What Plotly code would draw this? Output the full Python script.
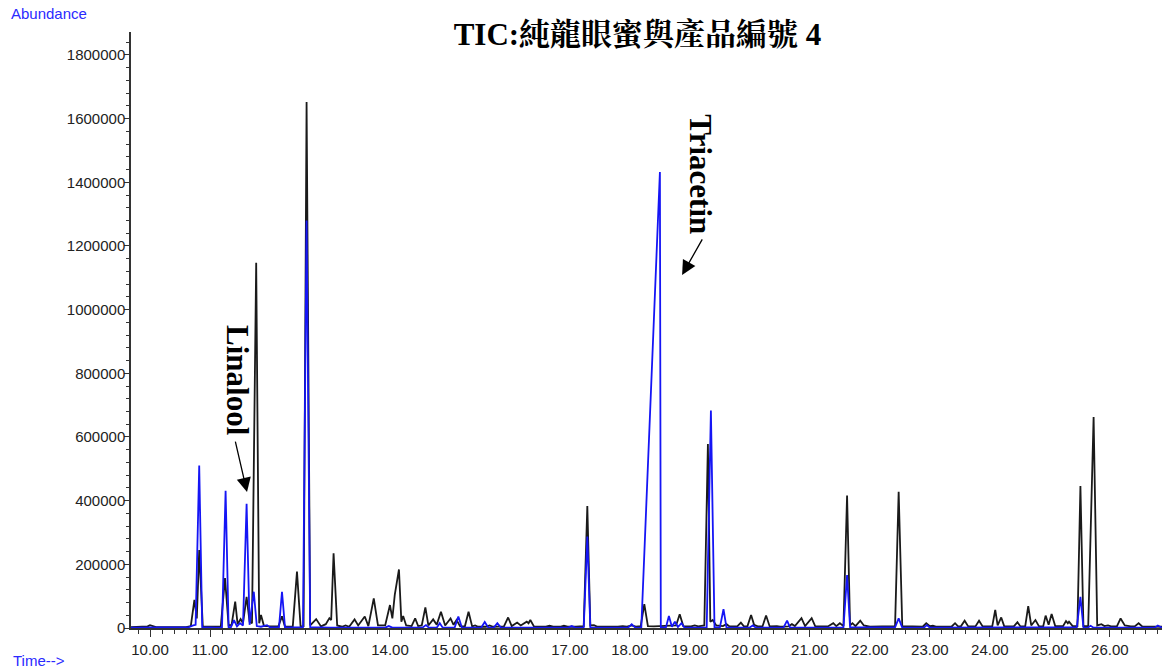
import plotly.graph_objects as go

# ---------------- data ----------------
# Black TIC trace: (retention time [min], abundance)
black_trace = [
    (9.68, 3000), (9.90, 3000), (9.96, 5000), (10.00, 9000), (10.05, 5000), (10.10, 3000),
    (10.60, 3000), (10.68, 6000), (10.74, 88000), (10.78, 30000), (10.82, 245000), (10.88, 5000),
    (11.00, 4000), (11.18, 5000), (11.25, 157000), (11.31, 8000), (11.36, 10000), (11.42, 83000),
    (11.46, 12000), (11.51, 28000), (11.55, 15000), (11.61, 98000), (11.66, 20000), (11.70, 15000),
    (11.77, 1147000), (11.82, 15000), (11.85, 41000), (11.90, 6000),
    (12.14, 5000), (12.20, 37000), (12.25, 4000), (12.38, 5000), (12.45, 177000), (12.51, 5000),
    (12.56, 6000), (12.61, 1652000), (12.67, 8000), (12.77, 28000), (12.85, 5000), (12.93, 12000),
    (12.99, 31000), (13.02, 25000), (13.06, 235000), (13.12, 8000), (13.20, 4000), (13.26, 8000),
    (13.32, 4000), (13.41, 27000), (13.47, 8000), (13.58, 36000), (13.64, 6000), (13.73, 93000),
    (13.80, 8000), (13.92, 8000), (14.00, 72000), (14.04, 30000), (14.08, 104000), (14.15, 184000),
    (14.19, 20000), (14.22, 38000), (14.27, 8000), (14.36, 6000), (14.42, 30000), (14.47, 6000),
    (14.53, 8000), (14.59, 65000), (14.64, 8000), (14.72, 27000), (14.78, 10000), (14.85, 51000),
    (14.92, 8000), (15.01, 30000), (15.06, 10000), (15.11, 25000), (15.17, 5000), (15.25, 6000),
    (15.31, 51000), (15.37, 5000), (15.42, 8000), (15.47, 4000), (15.60, 4000), (15.66, 8000),
    (15.72, 4000), (15.90, 5000), (15.97, 33000), (16.03, 6000), (16.12, 17000), (16.18, 8000),
    (16.28, 20000), (16.31, 15000), (16.34, 25000), (16.40, 5000), (16.60, 4000), (16.66, 7000),
    (16.72, 4000), (16.85, 4000), (16.90, 7000), (16.96, 4000), (17.10, 4000), (17.16, 6000),
    (17.23, 6000), (17.29, 383000), (17.34, 8000), (17.40, 9000), (17.46, 4000), (17.80, 4000),
    (17.88, 6000), (17.95, 4000), (18.03, 8000), (18.10, 4000), (18.18, 6000), (18.24, 75000),
    (18.30, 6000), (18.40, 5000), (18.50, 6000), (18.56, 5000), (18.70, 8000), (18.77, 8000),
    (18.83, 43000), (18.89, 6000), (19.02, 5000), (19.08, 8000), (19.14, 5000), (19.24, 8000),
    (19.30, 578000), (19.34, 20000), (19.38, 25000), (19.44, 8000), (19.55, 6000), (19.61, 12000),
    (19.66, 5000), (19.79, 5000), (19.85, 17000), (19.90, 5000), (19.96, 6000), (20.02, 41000),
    (20.07, 10000), (20.13, 5000), (20.21, 5000), (20.27, 39000), (20.33, 5000), (20.45, 6000),
    (20.50, 4000), (20.64, 5000), (20.70, 12000), (20.75, 6000), (20.86, 31000), (20.92, 6000),
    (21.03, 31000), (21.09, 5000), (21.30, 5000), (21.39, 15000), (21.44, 6000), (21.50, 15000),
    (21.56, 6000), (21.62, 416000), (21.67, 8000), (21.71, 15000), (21.76, 6000), (21.84, 23000),
    (21.90, 8000), (21.94, 6000), (22.00, 4000), (22.42, 6000), (22.48, 428000), (22.54, 6000),
    (22.61, 6000), (22.66, 4000), (22.88, 4000), (22.94, 15000), (23.00, 6000), (23.05, 7000),
    (23.10, 4000), (23.36, 4000), (23.42, 15000), (23.47, 5000), (23.52, 6000), (23.58, 23000),
    (23.64, 5000), (23.76, 5000), (23.82, 23000), (23.88, 5000), (24.04, 5000), (24.09, 57000),
    (24.13, 8000), (24.19, 33000), (24.24, 5000), (24.40, 5000), (24.46, 18000), (24.51, 5000),
    (24.59, 6000), (24.64, 69000), (24.69, 8000), (24.76, 25000), (24.82, 5000), (24.89, 6000),
    (24.93, 39000), (24.98, 10000), (25.03, 44000), (25.09, 6000), (25.22, 6000), (25.27, 22000),
    (25.30, 15000), (25.32, 20000), (25.38, 6000), (25.46, 6000), (25.51, 446000), (25.56, 6000),
    (25.64, 6000), (25.73, 663000), (25.79, 8000), (25.86, 12000), (25.91, 6000), (25.97, 8000),
    (26.02, 5000), (26.12, 6000), (26.18, 30000), (26.25, 8000), (26.35, 5000), (26.42, 6000),
    (26.48, 15000), (26.54, 5000), (26.87, 4000),
]

# Blue TIC trace: (retention time [min], abundance)
blue_trace = [
    (9.68, 1000), (10.55, 1000), (10.65, 3000), (10.72, 8000), (10.76, 10000), (10.82, 510000),
    (10.87, 3000), (11.10, 1000), (11.20, 2000), (11.26, 431000), (11.31, 3000), (11.35, 3000),
    (11.40, 25000), (11.45, 5000), (11.50, 15000), (11.55, 8000), (11.61, 390000), (11.66, 10000),
    (11.73, 114000), (11.78, 6000), (11.85, 4000), (11.95, 9000), (12.00, 2000), (12.15, 2000),
    (12.20, 114000), (12.25, 2000), (12.55, 2000), (12.61, 1280000), (12.67, 3000), (13.00, 1000),
    (13.92, 1000), (13.98, 6000), (14.04, 1000), (14.54, 1000), (14.60, 9000), (14.65, 1000),
    (14.78, 1000), (14.83, 15000), (14.88, 1000), (15.08, 2000), (15.14, 36000), (15.20, 1000),
    (15.52, 1000), (15.58, 19000), (15.64, 1000), (15.73, 1000), (15.79, 15000), (15.85, 1000),
    (16.97, 1000), (17.03, 6000), (17.09, 1000), (17.23, 2000), (17.29, 287000), (17.34, 2000),
    (17.97, 1000), (18.03, 12000), (18.09, 1000), (18.19, 2000), (18.50, 1432000), (18.515, 2000),
    (18.60, 2000), (18.65, 38000), (18.70, 4000), (18.75, 20000), (18.80, 3000), (18.86, 15000),
    (18.91, 1000), (19.28, 2000), (19.35, 683000), (19.41, 3000), (19.50, 2000), (19.56, 59000),
    (19.61, 1000), (19.99, 1000), (20.05, 8000), (20.10, 1000), (20.56, 1000), (20.62, 23000),
    (20.67, 1000), (21.56, 2000), (21.62, 166000), (21.67, 2000), (22.42, 2000), (22.48, 30000),
    (22.54, 1000), (22.90, 1000), (22.95, 9000), (23.00, 1000), (25.45, 2000), (25.51, 98000),
    (25.56, 2000), (25.63, 1000), (25.68, 7000), (25.73, 1000), (26.75, 1000), (26.80, 8000),
    (26.87, 1000),
]

black_time = [p[0] for p in black_trace]
black_abund = [p[1] for p in black_trace]
blue_time = [p[0] for p in blue_trace]
blue_abund = [p[1] for p in blue_trace]

title_text = "<b>TIC:純龍眼蜜與產品編號 4</b>"
label_linalool = "<b>Linalool</b>"
label_triacetin = "<b>Triacetin</b>"
y_label = "Abundance"
x_label = "Time-->"

# ---------------- figure ----------------
SERIF = "Liberation Serif, 'Noto Serif CJK TC', 'Noto Sans CJK TC', serif"
SANS = "Liberation Sans, Arial, sans-serif"
LABEL_BLUE = "#2a2aff"

fig = go.Figure()
fig.add_trace(go.Scatter(x=black_time, y=black_abund, mode="lines",
                         line=dict(color="#1a1a1a", width=1.8), showlegend=False))
fig.add_trace(go.Scatter(x=blue_time, y=blue_abund, mode="lines",
                         line=dict(color="#1515f5", width=1.8), showlegend=False))

fig.update_layout(
    width=1164, height=669,
    margin=dict(l=131, r=2, t=32, b=41),
    paper_bgcolor="white", plot_bgcolor="white",
    title=dict(text=title_text, x=637.5 / 1164, xanchor="center",
               y=1 - 34 / 669, yanchor="middle",
               font=dict(family=SERIF, size=31, color="black")),
    xaxis=dict(range=[9.683, 26.87], tick0=10, dtick=1, tickformat=".2f",
               ticks="outside", ticklen=7, tickwidth=1.3, tickcolor="#333",
               minor=dict(dtick=0.2, ticks="outside", ticklen=4, tickcolor="#333", tickwidth=1.2),
               showline=True, linecolor="#333", linewidth=1.5,
               showgrid=False, zeroline=False,
               tickfont=dict(family=SANS, size=15, color="#222")),
    yaxis=dict(range=[0, 1872000], tick0=0, dtick=200000, tickformat="d",
               ticks="outside", ticklen=5, tickwidth=1.3, tickcolor="#333",
               minor=dict(dtick=40000, ticks="outside", ticklen=3, tickcolor="#333", tickwidth=1.2),
               showline=True, linecolor="#333", linewidth=1.5,
               showgrid=False, zeroline=False, ticklabelstandoff=-4,
               tickfont=dict(family=SANS, size=15, color="#222")),
)

# axis captions
fig.add_annotation(text=y_label, xref="paper", yref="paper", x=-131 / 1031 + 9 / 1031, y=1 + 18 / 596,
                   xanchor="left", yanchor="middle", showarrow=False,
                   font=dict(family=SANS, size=15, color=LABEL_BLUE))
fig.add_annotation(text=x_label, xref="paper", yref="paper", x=-131 / 1031 + 11 / 1031, y=-32 / 596,
                   xanchor="left", yanchor="middle", showarrow=False,
                   font=dict(family=SANS, size=15, color=LABEL_BLUE))

# peak labels (rotated)
fig.add_annotation(text=label_linalool, x=11.45, y=779000, textangle=90, showarrow=False,
                   xanchor="center", yanchor="middle",
                   font=dict(family=SERIF, size=31, color="black"))
fig.add_annotation(text=label_triacetin, x=19.18, y=1426000, textangle=90, showarrow=False,
                   xanchor="center", yanchor="middle",
                   font=dict(family=SERIF, size=31, color="black"))

# arrows
fig.add_annotation(text="", x=11.617, y=427000, ax=-12, ay=-52, showarrow=True,
                   arrowhead=2, arrowsize=2.2, arrowwidth=1.3, arrowcolor="black")
fig.add_annotation(text="", x=18.87, y=1109000, ax=21, ay=-37, showarrow=True,
                   arrowhead=2, arrowsize=2.2, arrowwidth=1.3, arrowcolor="black")

fig.write_html("out.html")
